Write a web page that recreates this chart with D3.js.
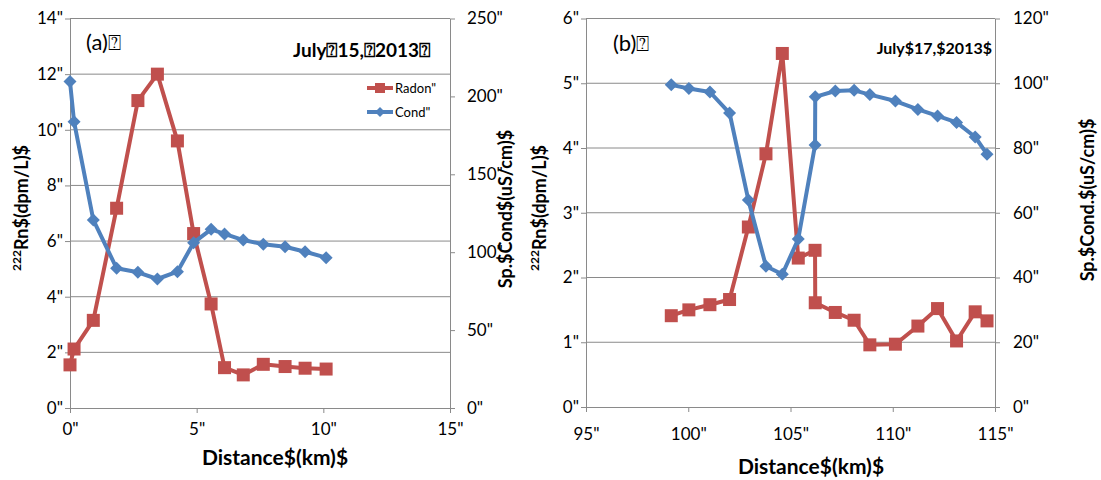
<!DOCTYPE html>
<html>
<head>
<meta charset="utf-8">
<script src="https://cdn.jsdelivr.net/npm/d3@7"></script>
<style>
  body { margin: 0; background: #fff; }
  text { font-family: Lato, "DejaVu Sans", sans-serif; }
</style>
</head>
<body>
<div id="container"></div>
<script>
// ---- panel (a) July 15 ----
let distA  = [0, 0.16, 0.92, 1.84, 2.68, 3.45, 4.24, 4.88, 5.57, 6.1, 6.84, 7.63, 8.49, 9.28, 10.11];
let radonA = [1.55, 2.12, 3.15, 7.18, 11.05, 12.0, 9.6, 6.27, 3.74, 1.45, 1.19, 1.57, 1.49, 1.43, 1.40];
let condA  = [209.5, 183.8, 120.7, 89.7, 87.1, 82.8, 87.5, 106.1, 114.7, 111.7, 107.8, 105.1, 103.5, 100.3, 96.5];
let xTicksA = [0, 5, 10, 15];
let yTicksA = [0, 2, 4, 6, 8, 10, 12, 14];
let y2TicksA = [0, 50, 100, 150, 200, 250];

// ---- panel (b) July 17 ----
let distB  = [99.17, 100.03, 101.06, 102.02, 102.94, 103.8, 104.6, 105.38, 106.2, 106.21, 107.19, 108.11, 108.88, 110.13, 111.23, 112.19, 113.12, 114.03, 114.61];
let radonB = [1.41, 1.50, 1.58, 1.66, 2.78, 3.91, 5.46, 2.30, 2.42, 1.61, 1.46, 1.34, 0.96, 0.97, 1.25, 1.52, 1.02, 1.47, 1.33];
let condB  = [99.5, 98.4, 97.3, 90.8, 63.9, 43.5, 41.0, 51.9, 80.9, 95.8, 97.6, 97.8, 96.5, 94.5, 91.9, 89.9, 87.9, 83.4, 78.1];
let xTicksB = [95, 100, 105, 110, 115];
let yTicksB = [0, 1, 2, 3, 4, 5, 6];
let y2TicksB = [0, 20, 40, 60, 80, 100, 120];

let radonColor = "#c0504d";
let condColor = "#4f81bd";
let gridColor = "#8a8a8a";

let svg = d3.select("#container")
  .append("svg")
    .attr("width", 1101)
    .attr("height", 480)
;

// soft edge like the original markers
svg.append("defs").append("filter")
    .attr("id", "soft")
  .append("feGaussianBlur")
    .attr("stdDeviation", 0.5);

let q = d => d + '"';

function drawPanel(p){
  let x = d3.scaleLinear().domain([p.xTicks[0], p.xTicks[p.xTicks.length-1]]).range([p.left, p.right]);
  let y = d3.scaleLinear().domain([0, p.yTicks[p.yTicks.length-1]]).range([p.bottom, p.top]);
  let y2 = d3.scaleLinear().domain([0, p.y2Ticks[p.y2Ticks.length-1]]).range([p.bottom, p.top]);

  let g = svg.append("g");

  // gridlines
  g.selectAll(".grid").data(p.yTicks.slice(1)).enter()
    .append("line")
      .attr("x1", p.left).attr("x2", p.right)
      .attr("y1", d => y(d)).attr("y2", d => y(d))
      .attr("stroke", gridColor)
      .attr("stroke-width", 1);

  let axL = g.append("g")
      .attr("transform", "translate(" + p.left + ",0)")
      .call(d3.axisLeft(y).tickValues(p.yTicks).tickFormat(q).tickSize(5).tickSizeOuter(0).tickPadding(p.padL));
  let axR = g.append("g")
      .attr("transform", "translate(" + p.right + ",0)")
      .call(d3.axisRight(y2).tickValues(p.y2Ticks).tickFormat(q).tickSize(5).tickSizeOuter(0).tickPadding(p.padR));
  let axB = g.append("g")
      .attr("transform", "translate(0," + p.bottom + ")")
      .call(d3.axisBottom(x).tickValues(p.xTicks).tickFormat(q).tickSize(5).tickSizeOuter(0).tickPadding(p.padB));

  [axL, axR, axB].forEach(a => {
    a.select(".domain").attr("stroke", gridColor).attr("stroke-width", 1);
    a.selectAll(".tick line").attr("stroke", gridColor);
    a.selectAll(".tick text")
      .attr("fill", "#000")
      .style("font-size", "17px")
      .style("font-family", "Lato, sans-serif");
  });

  let pts = (xs, vs) => xs.map((d, i) => [d, vs[i]]);
  let radonPts = pts(p.dist, p.radon);
  let condPts = pts(p.dist, p.cond);

  g.append("path")
      .datum(radonPts)
      .attr("d", d3.line().x(d => x(d[0])).y(d => y(d[1])))
      .attr("fill", "none")
      .attr("stroke", radonColor)
      .attr("stroke-width", 4)
      .attr("stroke-linejoin", "round");
  g.selectAll(".sq").data(radonPts).enter()
    .append("rect")
      .attr("x", d => x(d[0]) - 6.5)
      .attr("y", d => y(d[1]) - 6.5)
      .attr("width", 13)
      .attr("height", 13)
      .attr("fill", radonColor)
      .attr("filter", "url(#soft)");

  g.append("path")
      .datum(condPts)
      .attr("d", d3.line().x(d => x(d[0])).y(d => y2(d[1])))
      .attr("fill", "none")
      .attr("stroke", condColor)
      .attr("stroke-width", 4)
      .attr("stroke-linejoin", "round");
  g.selectAll(".dia").data(condPts).enter()
    .append("path")
      .attr("d", "M0,-6.5L6.5,0L0,6.5L-6.5,0Z")
      .attr("transform", d => "translate(" + x(d[0]) + "," + y2(d[1]) + ")")
      .attr("fill", condColor)
      .attr("filter", "url(#soft)");

  // axis titles
  let rn = g.append("text")
      .attr("transform", "translate(" + p.ylTitleX + "," + p.ylTitleY + ") rotate(-90)")
      .attr("text-anchor", "middle")
      .attr("dy", "0.35em")
      .style("font-size", "18px")
      .style("font-weight", "bold");
  rn.append("tspan").text("222").style("font-size", "12px").attr("baseline-shift", "super");
  rn.append("tspan").text("Rn$(dpm/L)$");

  g.append("text")
      .attr("transform", "translate(" + p.yrTitleX + "," + p.yrTitleY + ") rotate(-90)")
      .attr("text-anchor", "middle")
      .attr("dy", "0.35em")
      .style("font-size", "18px")
      .style("font-weight", "bold")
      .text(p.yrTitle);

  g.append("text")
      .attr("x", p.xTitleX)
      .attr("y", p.xTitleY)
      .attr("text-anchor", "middle")
      .attr("dy", "0.35em")
      .style("font-size", "21px")
      .style("font-weight", "bold")
      .text("Distance$(km)$");

  g.append("text")
      .attr("x", p.tagX)
      .attr("y", p.tagY)
      .style("font-size", "22px")
      .text(p.tag);

  g.append("text")
      .attr("x", p.dateX)
      .attr("y", p.dateY)
      .attr("text-anchor", "end")
      .style("font-size", p.dateSize)
      .style("font-weight", "bold")
      .text(p.date);

  return {x: x, y: y, y2: y2, g: g};
}

let a = drawPanel({
  dist: distA, radon: radonA, cond: condA,
  xTicks: xTicksA, yTicks: yTicksA, y2Ticks: y2TicksA,
  left: 70, right: 450, top: 18.5, bottom: 408,
  padL: 2, padR: 12, padB: 10,
  ylTitleX: 22, ylTitleY: 208,
  yrTitleX: 506, yrTitleY: 209, yrTitle: "Sp.$Cond$(uS/cm)$",
  xTitleX: 275, xTitleY: 458,
  tag: "(a)\u2370", tagX: 86, tagY: 50,
  date: "July\u237015,\u23702013\u2370", dateX: 430, dateY: 57, dateSize: "19px"
});

let b = drawPanel({
  dist: distB, radon: radonB, cond: condB,
  xTicks: xTicksB, yTicks: yTicksB, y2Ticks: y2TicksB,
  left: 586, right: 995, top: 18.5, bottom: 407,
  padL: 2, padR: 13, padB: 16,
  ylTitleX: 540, ylTitleY: 208,
  yrTitleX: 1088, yrTitleY: 200, yrTitle: "Sp.$Cond.$(uS/cm)$",
  xTitleX: 811, xTitleY: 467,
  tag: "(b)\u2370", tagX: 613, tagY: 51,
  date: "July$17,$2013$", dateX: 992, dateY: 54, dateSize: "16px"
});

// legend (panel a only)
let legend = a.g.append("g");
let legendItems = [["Radon\"", radonColor, "sq"], ["Cond\"", condColor, "dia"]];
legendItems.forEach((it, i) => {
  let ly = 88 + i * 24;
  legend.append("line")
      .attr("x1", 367).attr("x2", 393)
      .attr("y1", ly).attr("y2", ly)
      .attr("stroke", it[1])
      .attr("stroke-width", 4);
  if(it[2] == "sq"){
    legend.append("rect")
        .attr("x", 375).attr("y", ly - 5)
        .attr("width", 10).attr("height", 10)
        .attr("fill", it[1]);
  } else {
    legend.append("path")
        .attr("d", "M0,-5L5,0L0,5L-5,0Z")
        .attr("transform", "translate(380," + ly + ")")
        .attr("fill", it[1]);
  }
  legend.append("text")
      .attr("x", 395)
      .attr("y", ly)
      .attr("dy", "0.35em")
      .style("font-size", "13px")
      .text(it[0]);
});
</script>
</body>
</html>
